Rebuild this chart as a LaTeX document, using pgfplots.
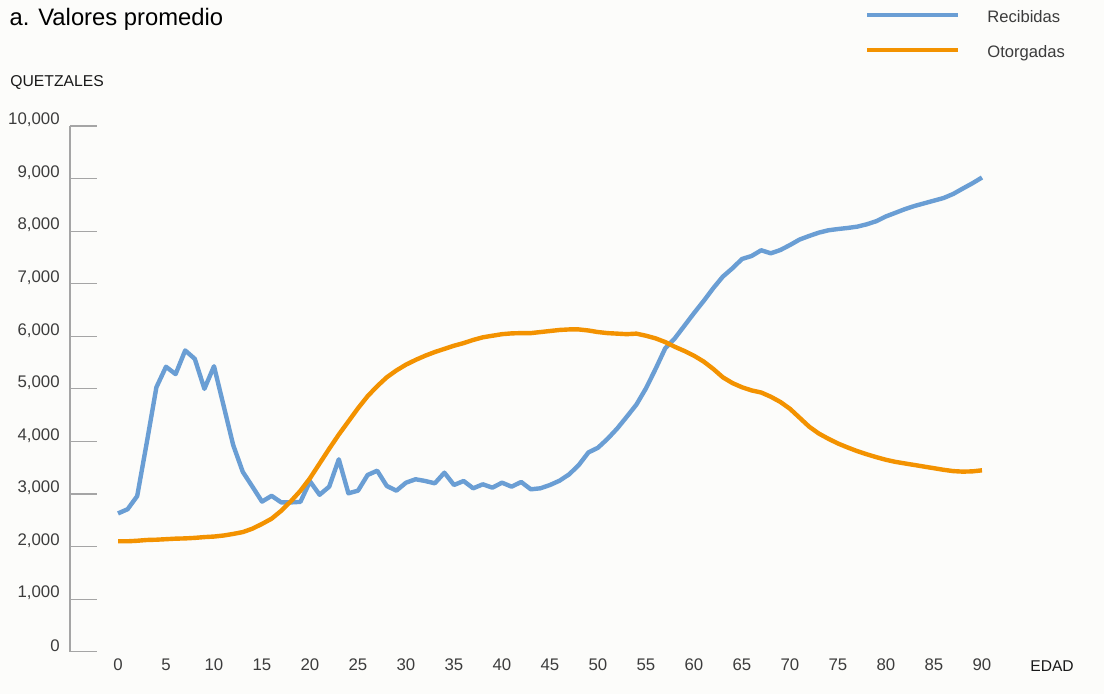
\documentclass[border=0pt]{standalone}
\usepackage{pgfplots}
\pgfplotsset{compat=1.18}
\usepackage{pgfplotstable}
\usepackage{fontspec}
\setmainfont{Liberation Sans}
\definecolor{bg}{RGB}{252,252,250}
\definecolor{cblue}{RGB}{106,158,212}
\definecolor{corange}{RGB}{243,146,0}
\definecolor{tickgray}{RGB}{60,60,60}
\definecolor{axgray}{RGB}{165,165,165}

\pgfplotstableread{
age val
0 2630
1 2710
2 2960
3 3980
4 5030
5 5420
6 5280
7 5730
8 5570
9 5000
10 5430
11 4680
12 3930
13 3420
14 3140
15 2855
16 2965
17 2840
18 2840
19 2850
20 3240
21 2985
22 3139
23 3660
24 3013
25 3063
26 3361
27 3443
28 3152
29 3063
30 3215
31 3280
32 3247
33 3203
34 3405
35 3171
36 3247
37 3108
38 3184
39 3120
40 3215
41 3139
42 3228
43 3089
44 3108
45 3171
46 3253
47 3374
48 3551
49 3790
50 3880
51 4050
52 4245
53 4470
54 4700
55 5010
56 5380
57 5770
58 5960
59 6200
60 6440
61 6670
62 6913
63 7134
64 7293
65 7470
66 7527
67 7636
68 7578
69 7641
70 7736
71 7840
72 7908
73 7971
74 8016
75 8040
76 8060
77 8085
78 8130
79 8190
80 8280
81 8350
82 8420
83 8480
84 8530
85 8580
86 8630
87 8707
88 8810
89 8910
90 9020
}\recibidas

\pgfplotstableread{
age val
0 2100
1 2100
2 2110
3 2125
4 2130
5 2140
6 2150
7 2155
8 2165
9 2180
10 2190
11 2210
12 2240
13 2275
14 2340
15 2430
16 2530
17 2680
18 2860
19 3060
20 3300
21 3580
22 3860
23 4130
24 4380
25 4630
26 4860
27 5050
28 5220
29 5350
30 5460
31 5550
32 5630
33 5700
34 5760
35 5820
36 5870
37 5930
38 5980
39 6010
40 6040
41 6055
42 6060
43 6060
44 6080
45 6100
46 6120
47 6130
48 6130
49 6110
50 6080
51 6060
52 6050
53 6040
54 6050
55 6010
56 5960
57 5890
58 5800
59 5720
60 5630
61 5520
62 5380
63 5220
64 5110
65 5030
66 4970
67 4930
68 4850
69 4750
70 4620
71 4450
72 4280
73 4150
74 4050
75 3960
76 3885
77 3815
78 3755
79 3700
80 3650
81 3610
82 3580
83 3550
84 3520
85 3490
86 3460
87 3435
88 3425
89 3430
90 3450
}\otorgadas

\begin{document}
\begin{tikzpicture}
\useasboundingbox (0,0) rectangle (552pt,347pt);
\fill[bg] (0,0) rectangle (552pt,347pt);
\begin{axis}[
  at={(35pt,21.15pt)}, anchor=south west,
  scale only axis, width=480pt, height=262.85pt,
  xmin=-5, xmax=95, ymin=0, ymax=10000,
  axis y line*=left, axis x line*=bottom,
  y axis line style={draw=axgray, line width=0.6pt, -},
  x axis line style={draw=none},
  xtick={0,5,...,90},
  ytick={0,1000,...,10000},
  scaled y ticks=false,
  xtick style={draw=none},
  ytick style={draw=axgray, line width=0.6pt},
  tick align=inside,
  major tick length=13.5pt,
  /pgf/number format/assume math mode=true,
  /pgf/number format/1000 sep={,},
  ticklabel style={font=\fontsize{8.4pt}{10pt}\selectfont, text=tickgray},
  yticklabel style={inner sep=0pt, anchor=east, xshift=-5pt, yshift=3pt},
  xticklabel style={inner sep=0pt, anchor=north, yshift=-3.3pt},
  clip=false,
  legend style={at={(0.8281,1.2190)}, anchor=north west, draw=none, fill=none,
    inner sep=0pt, outer sep=0pt, column sep=13.5pt, row sep=9.5pt,
    font=\fontsize{8.3pt}{10pt}\selectfont, text=tickgray,
    nodes={inner sep=0pt, text height=6pt, text depth=2pt}},
  legend cell align=left,
  legend image code/.code={\draw[#1] (0pt,1.8pt) -- (45.5pt,1.8pt);},
]
\addplot[cblue, line width=2.2pt, line join=round] table[x=age,y=val] {\recibidas};
\addlegendentry{Recibidas}
\addplot[corange, line width=2.2pt, line join=round] table[x=age,y=val] {\otorgadas};
\addlegendentry{Otorgadas}
\end{axis}
\node[anchor=base west, inner sep=0pt, font=\fontsize{11.9pt}{14pt}\selectfont] at (4.65pt,334pt) {a. Valores promedio};
\node[anchor=base west, inner sep=0pt, font=\fontsize{7.85pt}{10pt}\selectfont, text=black!90] at (5pt,303.5pt) {QUETZALES};
\node[anchor=base west, inner sep=0pt, font=\fontsize{7.8pt}{10pt}\selectfont, text=black!90] at (515pt,11pt) {EDAD};
\end{tikzpicture}
\end{document}
